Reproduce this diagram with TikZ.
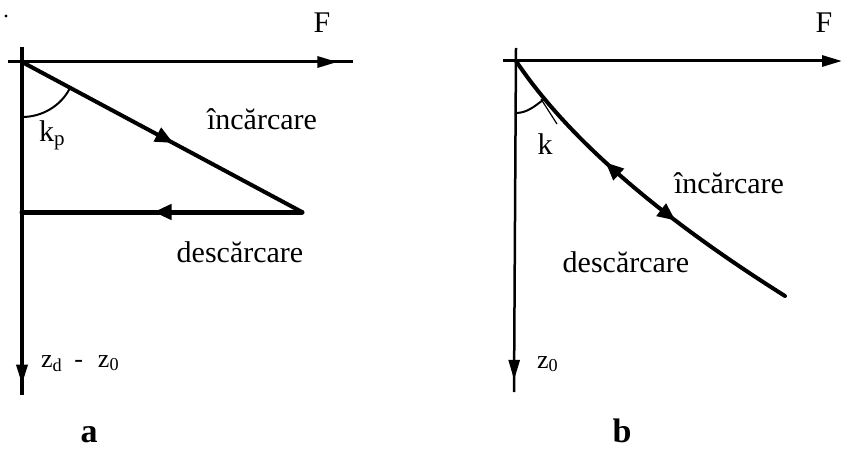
\documentclass[tikz,border=0pt]{standalone}
\usepackage{fontspec}
\setmainfont{Liberation Serif}
\usetikzlibrary{arrows.meta,decorations.markings}
\tikzset{
  axis/.style={line width=3pt},
  curve/.style={line width=4pt, line cap=round},
  unload/.style={line width=5pt, line cap=round},
  anglearc/.style={line width=2pt},
  tinyline/.style={line width=1.2pt},
  lbl/.style={font=\fontsize{30}{34}\selectfont, inner sep=0pt, anchor=base},
  sublbl/.style={font=\fontsize{26}{30}\selectfont, inner sep=0pt, anchor=base west},
  panel/.style={font=\fontsize{34}{38}\selectfont\bfseries, inner sep=0pt, anchor=base},
  endtip/.style={-{Triangle[length=20pt,width=11pt]}},
  markat/.style={postaction={decorate, decoration={markings,
    mark=at position #1 with {\arrow{Triangle[length=18pt,width=15pt]}}}}},
  markback/.style={postaction={decorate, decoration={markings,
    mark=at position #1 with {\arrowreversed{Triangle[length=18pt,width=15pt]}}}}},
  axismark/.style={postaction={decorate, decoration={markings,
    mark=at position #1 with {\arrow{Triangle[length=20pt,width=11pt]}}}}},
}
\begin{document}
\begin{tikzpicture}[x=1pt,y=-1pt]
  \useasboundingbox (0,0) rectangle (842,449);

  % Diagram a - loading along the slope, unloading at constant z
  \coordinate (oA) at (22,62);
  \coordinate (lA) at (8,62);
  \coordinate (fA) at (353,62);
  \coordinate (tA) at (22,47);
  \coordinate (zA) at (22,395);
  \coordinate (pA) at (302,212);
  \coordinate (qA) at (22,212);
  \draw[axis, axismark=0.955] (lA) -- (fA);
  \draw[axis, line width=3.5pt, axismark=0.97] (tA) -- (zA);
  \draw[curve, markat=0.54] (oA) -- (pA);
  \draw[unload, markat=0.53] (pA) -- (qA);
  \draw[anglearc] (22,117) .. controls (42,117) and (61,106) .. (70,88);
  \fill (6,16) circle (1.6);

  \node[lbl] (FA) at (322,33) {F};
  \node[lbl] (loadA) at (262,130) {încărcare};
  \node[lbl] (unloadA) at (240,262) {descărcare};
  \node[lbl, anchor=base west] (kA) at (39,142) {k\textsubscript{p}};
  \node[sublbl] (zlabA) at (41,367) {z\textsubscript{d}\hspace{12pt}-\hspace{15pt}z\textsubscript{0}};
  \node[panel] (capA) at (89,442) {a};

  % Diagram b - loading and unloading on the same curve
  \coordinate (oB) at (516,61);
  \coordinate (lB) at (503,61);
  \coordinate (fB) at (842,61);
  \coordinate (tB) at (516,48);
  \coordinate (zB) at (514,392);
  \coordinate (eB) at (785,296);
  \draw[axis, endtip] (lB) -- (fB);
  \draw[axis, line width=2.5pt, axismark=0.965] (tB) -- (zB);
  \draw[curve, markback=0.377, markat=0.63] (oB) .. controls (577,152) and (685,233) .. (eB);
  \draw[tinyline] (541,99) -- (557,124);
  \draw[anglearc] (516,113) .. controls (527,113) and (535,106) .. (543,100);

  \node[lbl] (FB) at (824,33) {F};
  \node[lbl] (loadB) at (729,193) {încărcare};
  \node[lbl] (unloadB) at (626,272) {descărcare};
  \node[lbl] (kB) at (545,155) {k};
  \node[sublbl] (zlabB) at (537,368) {z\textsubscript{0}};
  \node[panel] (capB) at (622,442) {b};
\end{tikzpicture}
\end{document}
